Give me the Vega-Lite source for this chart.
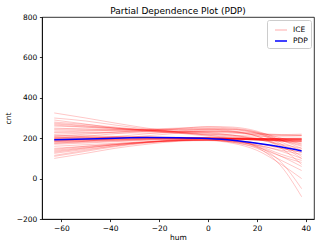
{
"$schema":"https://vega.github.io/schema/vega-lite/v6.json",
"width":272,"height":202,
"autosize":{"type":"none"},
"padding":{"left":42,"top":17,"right":5,"bottom":29},
"background":"white",
"config":{"font":"DejaVu Sans","view":{"stroke":"black","strokeWidth":0.8},
"axis":{"grid":false,"domainColor":"black","domainWidth":0.8,"tickColor":"black","tickWidth":0.8,"tickSize":2.6,"labelPadding":2.6,"labelFontSize":7.5,"labelColor":"black","titleFontSize":7.5,"titleFontWeight":"normal","titleColor":"black","labelFont":"DejaVu Sans","titleFont":"DejaVu Sans"}},
"title":{"text":"Partial Dependence Plot (PDP)","fontSize":9,"fontWeight":"normal","font":"DejaVu Sans","color":"black","offset":2,"dy":5},
"layer":[
{"data":{"values":[
{"i":1,"h":-62.9,"c":195},{"i":1,"h":-50,"c":196},{"i":1,"h":-38,"c":198},{"i":1,"h":-25,"c":200},{"i":1,"h":-12,"c":200},{"i":1,"h":0,"c":199},{"i":1,"h":10,"c":197},{"i":1,"h":20,"c":195},{"i":1,"h":30,"c":194},{"i":1,"h":38.3,"c":193},
{"i":2,"h":-62.9,"c":190},{"i":2,"h":-50,"c":192},{"i":2,"h":-38,"c":195},{"i":2,"h":-25,"c":198},{"i":2,"h":-12,"c":199},{"i":2,"h":0,"c":198},{"i":2,"h":10,"c":196},{"i":2,"h":20,"c":193},{"i":2,"h":30,"c":191},{"i":2,"h":38.3,"c":190},
{"i":3,"h":-62.9,"c":185},{"i":3,"h":-50,"c":188},{"i":3,"h":-38,"c":192},{"i":3,"h":-25,"c":196},{"i":3,"h":-12,"c":198},{"i":3,"h":0,"c":197},{"i":3,"h":10,"c":195},{"i":3,"h":20,"c":192},{"i":3,"h":30,"c":190},{"i":3,"h":38.3,"c":188},
{"i":4,"h":-62.9,"c":200},{"i":4,"h":-50,"c":201},{"i":4,"h":-38,"c":202},{"i":4,"h":-25,"c":203},{"i":4,"h":-12,"c":202},{"i":4,"h":0,"c":200},{"i":4,"h":10,"c":198},{"i":4,"h":20,"c":196},{"i":4,"h":30,"c":195},{"i":4,"h":38.3,"c":195},
{"i":5,"h":-62.9,"c":205},{"i":5,"h":-50,"c":204},{"i":5,"h":-38,"c":204},{"i":5,"h":-25,"c":204},{"i":5,"h":-12,"c":203},{"i":5,"h":0,"c":201},{"i":5,"h":10,"c":199},{"i":5,"h":20,"c":197},{"i":5,"h":30,"c":196},{"i":5,"h":38.3,"c":196},
{"i":6,"h":-62.9,"c":180},{"i":6,"h":-50,"c":184},{"i":6,"h":-38,"c":189},{"i":6,"h":-25,"c":194},{"i":6,"h":-12,"c":197},{"i":6,"h":0,"c":197},{"i":6,"h":10,"c":195},{"i":6,"h":20,"c":192},{"i":6,"h":30,"c":189},{"i":6,"h":38.3,"c":186},
{"i":7,"h":-62.9,"c":210},{"i":7,"h":-50,"c":208},{"i":7,"h":-38,"c":206},{"i":7,"h":-25,"c":205},{"i":7,"h":-12,"c":203},{"i":7,"h":0,"c":201},{"i":7,"h":10,"c":199},{"i":7,"h":20,"c":197},{"i":7,"h":30,"c":197},{"i":7,"h":38.3,"c":197},
{"i":8,"h":-62.9,"c":175},{"i":8,"h":-50,"c":180},{"i":8,"h":-38,"c":186},{"i":8,"h":-25,"c":192},{"i":8,"h":-12,"c":196},{"i":8,"h":0,"c":197},{"i":8,"h":10,"c":195},{"i":8,"h":20,"c":192},{"i":8,"h":30,"c":188},{"i":8,"h":38.3,"c":184},
{"i":9,"h":-62.9,"c":198},{"i":9,"h":-50,"c":199},{"i":9,"h":-38,"c":201},{"i":9,"h":-25,"c":203},{"i":9,"h":-12,"c":203},{"i":9,"h":0,"c":202},{"i":9,"h":10,"c":200},{"i":9,"h":20,"c":198},{"i":9,"h":30,"c":198},{"i":9,"h":38.3,"c":198},
{"i":10,"h":-62.9,"c":215},{"i":10,"h":-50,"c":212},{"i":10,"h":-38,"c":209},{"i":10,"h":-25,"c":206},{"i":10,"h":-12,"c":204},{"i":10,"h":0,"c":202},{"i":10,"h":10,"c":200},{"i":10,"h":20,"c":199},{"i":10,"h":30,"c":199},{"i":10,"h":38.3,"c":200},
{"i":11,"h":-62.9,"c":188},{"i":11,"h":-50,"c":190},{"i":11,"h":-38,"c":194},{"i":11,"h":-25,"c":198},{"i":11,"h":-12,"c":200},{"i":11,"h":0,"c":200},{"i":11,"h":10,"c":198},{"i":11,"h":20,"c":196},{"i":11,"h":30,"c":195},{"i":11,"h":38.3,"c":194},
{"i":12,"h":-62.9,"c":170},{"i":12,"h":-50,"c":176},{"i":12,"h":-38,"c":183},{"i":12,"h":-25,"c":190},{"i":12,"h":-12,"c":195},{"i":12,"h":0,"c":197},{"i":12,"h":10,"c":196},{"i":12,"h":20,"c":193},{"i":12,"h":30,"c":190},{"i":12,"h":38.3,"c":187},
{"i":13,"h":-62.9,"c":325},{"i":13,"h":-50,"c":300},{"i":13,"h":-38,"c":275},{"i":13,"h":-25,"c":250},{"i":13,"h":-12,"c":230},{"i":13,"h":0,"c":215},{"i":13,"h":10,"c":200},{"i":13,"h":20,"c":190},{"i":13,"h":30,"c":185},{"i":13,"h":38.3,"c":183},
{"i":14,"h":-62.9,"c":300},{"i":14,"h":-50,"c":285},{"i":14,"h":-38,"c":265},{"i":14,"h":-25,"c":245},{"i":14,"h":-12,"c":228},{"i":14,"h":0,"c":215},{"i":14,"h":10,"c":205},{"i":14,"h":20,"c":198},{"i":14,"h":30,"c":195},{"i":14,"h":38.3,"c":193},
{"i":15,"h":-62.9,"c":290},{"i":15,"h":-50,"c":270},{"i":15,"h":-38,"c":250},{"i":15,"h":-25,"c":235},{"i":15,"h":-12,"c":225},{"i":15,"h":0,"c":220},{"i":15,"h":10,"c":215},{"i":15,"h":20,"c":210},{"i":15,"h":30,"c":210},{"i":15,"h":38.3,"c":212},
{"i":16,"h":-62.9,"c":270},{"i":16,"h":-50,"c":260},{"i":16,"h":-38,"c":250},{"i":16,"h":-25,"c":240},{"i":16,"h":-12,"c":232},{"i":16,"h":0,"c":225},{"i":16,"h":10,"c":215},{"i":16,"h":20,"c":200},{"i":16,"h":30,"c":185},{"i":16,"h":38.3,"c":175},
{"i":17,"h":-62.9,"c":280},{"i":17,"h":-50,"c":268},{"i":17,"h":-38,"c":255},{"i":17,"h":-25,"c":240},{"i":17,"h":-12,"c":225},{"i":17,"h":0,"c":210},{"i":17,"h":10,"c":195},{"i":17,"h":20,"c":175},{"i":17,"h":30,"c":150},{"i":17,"h":38.3,"c":130},
{"i":18,"h":-62.9,"c":260},{"i":18,"h":-50,"c":255},{"i":18,"h":-38,"c":250},{"i":18,"h":-25,"c":242},{"i":18,"h":-12,"c":235},{"i":18,"h":0,"c":228},{"i":18,"h":10,"c":215},{"i":18,"h":20,"c":195},{"i":18,"h":30,"c":165},{"i":18,"h":38.3,"c":140},
{"i":19,"h":-62.9,"c":275},{"i":19,"h":-50,"c":262},{"i":19,"h":-38,"c":250},{"i":19,"h":-25,"c":240},{"i":19,"h":-12,"c":232},{"i":19,"h":0,"c":235},{"i":19,"h":10,"c":230},{"i":19,"h":20,"c":215},{"i":19,"h":30,"c":190},{"i":19,"h":38.3,"c":165},
{"i":20,"h":-62.9,"c":250},{"i":20,"h":-50,"c":245},{"i":20,"h":-38,"c":240},{"i":20,"h":-25,"c":235},{"i":20,"h":-12,"c":228},{"i":20,"h":0,"c":220},{"i":20,"h":10,"c":210},{"i":20,"h":20,"c":195},{"i":20,"h":30,"c":170},{"i":20,"h":38.3,"c":150},
{"i":21,"h":-62.9,"c":265},{"i":21,"h":-50,"c":255},{"i":21,"h":-38,"c":245},{"i":21,"h":-25,"c":238},{"i":21,"h":-12,"c":235},{"i":21,"h":0,"c":240},{"i":21,"h":10,"c":235},{"i":21,"h":20,"c":225},{"i":21,"h":30,"c":218},{"i":21,"h":38.3,"c":220},
{"i":22,"h":-62.9,"c":240},{"i":22,"h":-50,"c":238},{"i":22,"h":-38,"c":236},{"i":22,"h":-25,"c":234},{"i":22,"h":-12,"c":232},{"i":22,"h":0,"c":230},{"i":22,"h":10,"c":225},{"i":22,"h":20,"c":218},{"i":22,"h":30,"c":215},{"i":22,"h":38.3,"c":215},
{"i":23,"h":-62.9,"c":100},{"i":23,"h":-50,"c":125},{"i":23,"h":-38,"c":150},{"i":23,"h":-25,"c":170},{"i":23,"h":-12,"c":185},{"i":23,"h":0,"c":190},{"i":23,"h":10,"c":185},{"i":23,"h":20,"c":165},{"i":23,"h":30,"c":120},{"i":23,"h":38.3,"c":90},
{"i":24,"h":-62.9,"c":110},{"i":24,"h":-50,"c":135},{"i":24,"h":-38,"c":158},{"i":24,"h":-25,"c":176},{"i":24,"h":-12,"c":188},{"i":24,"h":0,"c":192},{"i":24,"h":10,"c":185},{"i":24,"h":20,"c":160},{"i":24,"h":30,"c":110},{"i":24,"h":38.3,"c":60},
{"i":25,"h":-62.9,"c":125},{"i":25,"h":-50,"c":145},{"i":25,"h":-38,"c":162},{"i":25,"h":-25,"c":178},{"i":25,"h":-12,"c":188},{"i":25,"h":0,"c":190},{"i":25,"h":10,"c":180},{"i":25,"h":20,"c":150},{"i":25,"h":30,"c":90},{"i":25,"h":38.3,"c":40},
{"i":26,"h":-62.9,"c":140},{"i":26,"h":-50,"c":155},{"i":26,"h":-38,"c":168},{"i":26,"h":-25,"c":180},{"i":26,"h":-12,"c":188},{"i":26,"h":0,"c":190},{"i":26,"h":10,"c":180},{"i":26,"h":20,"c":155},{"i":26,"h":30,"c":110},{"i":26,"h":38.3,"c":80},
{"i":27,"h":-62.9,"c":150},{"i":27,"h":-50,"c":160},{"i":27,"h":-38,"c":170},{"i":27,"h":-25,"c":180},{"i":27,"h":-12,"c":187},{"i":27,"h":0,"c":188},{"i":27,"h":10,"c":175},{"i":27,"h":20,"c":140},{"i":27,"h":30,"c":70},{"i":27,"h":38.3,"c":0},
{"i":28,"h":-62.9,"c":130},{"i":28,"h":-50,"c":150},{"i":28,"h":-38,"c":168},{"i":28,"h":-25,"c":182},{"i":28,"h":-12,"c":192},{"i":28,"h":0,"c":196},{"i":28,"h":10,"c":188},{"i":28,"h":20,"c":160},{"i":28,"h":30,"c":80},{"i":28,"h":38.3,"c":-50},
{"i":29,"h":-62.9,"c":115},{"i":29,"h":-50,"c":140},{"i":29,"h":-38,"c":162},{"i":29,"h":-25,"c":180},{"i":29,"h":-12,"c":193},{"i":29,"h":0,"c":200},{"i":29,"h":10,"c":192},{"i":29,"h":20,"c":155},{"i":29,"h":30,"c":60},{"i":29,"h":38.3,"c":-90},
{"i":30,"h":-62.9,"c":160},{"i":30,"h":-50,"c":168},{"i":30,"h":-38,"c":175},{"i":30,"h":-25,"c":182},{"i":30,"h":-12,"c":188},{"i":30,"h":0,"c":190},{"i":30,"h":10,"c":182},{"i":30,"h":20,"c":165},{"i":30,"h":30,"c":140},{"i":30,"h":38.3,"c":120},
{"i":31,"h":-62.9,"c":145},{"i":31,"h":-50,"c":160},{"i":31,"h":-38,"c":172},{"i":31,"h":-25,"c":183},{"i":31,"h":-12,"c":190},{"i":31,"h":0,"c":193},{"i":31,"h":10,"c":186},{"i":31,"h":20,"c":168},{"i":31,"h":30,"c":135},{"i":31,"h":38.3,"c":100},
{"i":32,"h":-62.9,"c":135},{"i":32,"h":-50,"c":152},{"i":32,"h":-38,"c":167},{"i":32,"h":-25,"c":180},{"i":32,"h":-12,"c":190},{"i":32,"h":0,"c":195},{"i":32,"h":10,"c":190},{"i":32,"h":20,"c":175},{"i":32,"h":30,"c":150},{"i":32,"h":38.3,"c":130},
{"i":33,"h":-62.9,"c":230},{"i":33,"h":-50,"c":235},{"i":33,"h":-38,"c":240},{"i":33,"h":-25,"c":245},{"i":33,"h":-12,"c":250},{"i":33,"h":0,"c":255},{"i":33,"h":10,"c":250},{"i":33,"h":20,"c":230},{"i":33,"h":30,"c":180},{"i":33,"h":38.3,"c":140},
{"i":34,"h":-62.9,"c":210},{"i":34,"h":-50,"c":220},{"i":34,"h":-38,"c":230},{"i":34,"h":-25,"c":240},{"i":34,"h":-12,"c":248},{"i":34,"h":0,"c":258},{"i":34,"h":10,"c":255},{"i":34,"h":20,"c":235},{"i":34,"h":30,"c":190},{"i":34,"h":38.3,"c":150},
{"i":35,"h":-62.9,"c":200},{"i":35,"h":-50,"c":210},{"i":35,"h":-38,"c":222},{"i":35,"h":-25,"c":235},{"i":35,"h":-12,"c":245},{"i":35,"h":0,"c":250},{"i":35,"h":10,"c":245},{"i":35,"h":20,"c":225},{"i":35,"h":30,"c":170},{"i":35,"h":38.3,"c":110},
{"i":36,"h":-62.9,"c":220},{"i":36,"h":-50,"c":225},{"i":36,"h":-38,"c":230},{"i":36,"h":-25,"c":238},{"i":36,"h":-12,"c":245},{"i":36,"h":0,"c":245},{"i":36,"h":10,"c":235},{"i":36,"h":20,"c":210},{"i":36,"h":30,"c":150},{"i":36,"h":38.3,"c":70},
{"i":37,"h":-62.9,"c":185},{"i":37,"h":-50,"c":195},{"i":37,"h":-38,"c":208},{"i":37,"h":-25,"c":222},{"i":37,"h":-12,"c":235},{"i":37,"h":0,"c":245},{"i":37,"h":10,"c":245},{"i":37,"h":20,"c":230},{"i":37,"h":30,"c":200},{"i":37,"h":38.3,"c":170},
{"i":38,"h":-62.9,"c":245},{"i":38,"h":-50,"c":245},{"i":38,"h":-38,"c":243},{"i":38,"h":-25,"c":242},{"i":38,"h":-12,"c":242},{"i":38,"h":0,"c":245},{"i":38,"h":10,"c":242},{"i":38,"h":20,"c":225},{"i":38,"h":30,"c":190},{"i":38,"h":38.3,"c":160},
{"i":39,"h":-62.9,"c":175},{"i":39,"h":-50,"c":185},{"i":39,"h":-38,"c":198},{"i":39,"h":-25,"c":212},{"i":39,"h":-12,"c":225},{"i":39,"h":0,"c":235},{"i":39,"h":10,"c":232},{"i":39,"h":20,"c":210},{"i":39,"h":30,"c":160},{"i":39,"h":38.3,"c":100},
{"i":40,"h":-62.9,"c":230},{"i":40,"h":-50,"c":228},{"i":40,"h":-38,"c":226},{"i":40,"h":-25,"c":226},{"i":40,"h":-12,"c":228},{"i":40,"h":0,"c":232},{"i":40,"h":10,"c":230},{"i":40,"h":20,"c":222},{"i":40,"h":30,"c":215},{"i":40,"h":38.3,"c":213},
{"i":41,"h":-62.9,"c":193},{"i":41,"h":-50,"c":194},{"i":41,"h":-38,"c":196},{"i":41,"h":-25,"c":199},{"i":41,"h":-12,"c":201},{"i":41,"h":0,"c":200},{"i":41,"h":10,"c":198},{"i":41,"h":20,"c":194},{"i":41,"h":30,"c":192},{"i":41,"h":38.3,"c":191},
{"i":42,"h":-62.9,"c":202},{"i":42,"h":-50,"c":203},{"i":42,"h":-38,"c":204},{"i":42,"h":-25,"c":205},{"i":42,"h":-12,"c":204},{"i":42,"h":0,"c":202},{"i":42,"h":10,"c":200},{"i":42,"h":20,"c":199},{"i":42,"h":30,"c":199},{"i":42,"h":38.3,"c":199},
{"i":43,"h":-62.9,"c":183},{"i":43,"h":-50,"c":186},{"i":43,"h":-38,"c":190},{"i":43,"h":-25,"c":195},{"i":43,"h":-12,"c":198},{"i":43,"h":0,"c":198},{"i":43,"h":10,"c":196},{"i":43,"h":20,"c":191},{"i":43,"h":30,"c":186},{"i":43,"h":38.3,"c":182}
]},
"mark":{"type":"line","interpolate":"monotone","strokeWidth":1,"clip":true},
"encoding":{
"x":{"field":"h","type":"quantitative","scale":{"domain":[-67.9,43.35],"nice":false,"zero":false},"axis":{"title":"hum","values":[-60,-40,-20,0,20,40],"labelExpr":"replace(datum.label, '-', '−')","titlePadding":2}},
"y":{"field":"c","type":"quantitative","scale":{"domain":[-200,800],"nice":false,"zero":false},"axis":{"title":"cnt","values":[-200,0,200,400,600,800],"labelExpr":"replace(datum.label, '-', '−')","titlePadding":4}},
"detail":{"field":"i","type":"nominal"},
"color":{"datum":"ICE","type":"nominal","scale":{"domain":["ICE","PDP"],"range":["rgba(255,0,0,0.22)","#0000ff"]},
"legend":{"title":null,"orient":"top-right","offset":3,"symbolType":"stroke","symbolSize":144,"symbolStrokeWidth":1.5,"labelFontSize":7.5,"labelColor":"black","labelFont":"DejaVu Sans","strokeColor":"#cccccc","fillColor":"white","cornerRadius":2,"padding":3,"rowPadding":0,"symbolOffset":4,"labelOffset":5}}
}},
{"data":{"values":[
{"h":-62.9,"c":192},{"h":-50,"c":196},{"h":-38,"c":200},{"h":-25,"c":203},{"h":-12,"c":202},{"h":0,"c":198},{"h":10,"c":190},{"h":20,"c":175},{"h":30,"c":156},{"h":38.3,"c":137}
]},
"mark":{"type":"line","interpolate":"monotone","strokeWidth":1.5,"clip":true},
"encoding":{
"x":{"field":"h","type":"quantitative"},
"y":{"field":"c","type":"quantitative"},
"color":{"datum":"PDP","type":"nominal"}
}}
]
}
